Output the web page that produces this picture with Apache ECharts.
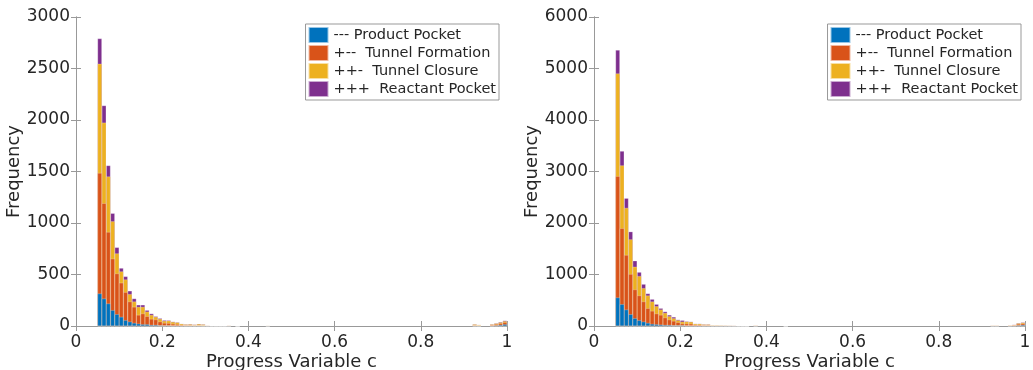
<!DOCTYPE html>
<html>
<head>
<meta charset="utf-8">
<script src="https://cdn.jsdelivr.net/npm/echarts@6/dist/echarts.min.js"></script>
<style>
  html, body { margin: 0; padding: 0; background: #fff; }
  #chart { width: 1033px; height: 370px; }
</style>
</head>
<body>
<div id="chart"></div>
<script>
// histogram bin centres (bin width 0.01)
const bins = [
  0.055, 0.065, 0.075, 0.085, 0.095, 0.105, 0.115, 0.125, 0.135, 0.145,
  0.155, 0.165, 0.175, 0.185, 0.195, 0.205, 0.215, 0.225, 0.235, 0.245,
  0.255, 0.265, 0.275, 0.285, 0.295, 0.305, 0.315, 0.325, 0.335, 0.345,
  0.355, 0.375, 0.445, 0.925, 0.935, 0.965, 0.975, 0.985, 0.995
];
const names = ['--- Product Pocket', '+--  Tunnel Formation', '++-  Tunnel Closure', '+++  Reactant Pocket'];
const colors = ['#0072BD', '#D95319', '#EDB120', '#7E2F8E'];

// left panel
const leftProduct = [315, 266, 218, 153, 114, 88, 56, 42, 29, 22, 16, 16, 10, 10, 6, 5, 5, 4, 3, 2, 1, 1, 1, 1, 0, 0, 0, 0, 0, 0, 0, 0, 0, 0, 0, 2, 6, 10, 16];
const leftFormation = [1170, 925, 694, 500, 395, 331, 272, 195, 156, 85, 104, 78, 58, 52, 36, 24, 22, 16, 14, 8, 6, 6, 4, 5, 4, 2, 1, 1, 1, 0, 2, 0, 3, 6, 4, 8, 10, 14, 18];
const leftClosure = [1060, 783, 539, 363, 195, 110, 123, 72, 52, 78, 65, 45, 39, 26, 26, 20, 24, 19, 17, 11, 8, 10, 8, 13, 11, 4, 3, 2, 1, 2, 4, 0, 2, 10, 8, 6, 8, 10, 12];
const leftReactant = [245, 166, 107, 78, 59, 33, 30, 32, 29, 20, 20, 14, 13, 6, 7, 7, 4, 3, 2, 1, 1, 1, 1, 1, 1, 0, 0, 0, 0, 0, 0, 0, 0, 0, 0, 1, 2, 4, 6];

// right panel
const rightProduct = [552, 422, 318, 227, 149, 110, 84, 58, 39, 32, 26, 19, 19, 13, 13, 13, 8, 7, 4, 4, 3, 3, 1, 1, 1, 1, 0, 0, 0, 0, 0, 0, 0, 0, 0, 2, 6, 14, 20];
const rightFormation = [2357, 1474, 1059, 780, 559, 481, 390, 286, 253, 208, 188, 143, 104, 84, 58, 32, 36, 34, 18, 18, 12, 12, 7, 7, 6, 5, 4, 3, 2, 1, 0, 4, 0, 6, 6, 8, 10, 22, 26];
const rightClosure = [1994, 1221, 915, 674, 441, 377, 260, 247, 182, 143, 104, 91, 65, 52, 39, 39, 40, 38, 20, 20, 15, 15, 11, 11, 10, 9, 9, 8, 4, 3, 0, 10, 0, 8, 8, 6, 8, 16, 18];
const rightReactant = [454, 279, 188, 150, 117, 77, 78, 39, 46, 39, 26, 26, 26, 26, 13, 26, 6, 5, 3, 3, 2, 2, 1, 1, 1, 1, 1, 1, 0, 0, 0, 0, 0, 0, 0, 0, 2, 4, 6];

const leftSets = [leftProduct, leftFormation, leftClosure, leftReactant];
const rightSets = [rightProduct, rightFormation, rightClosure, rightReactant];

const axisGray = '#999';
const textDark = '#262626';
const font = 'DejaVu Sans';

function xAxes(gridIndex) {
  return [
    {
      type: 'value', gridIndex: gridIndex, min: 0, max: 1, interval: 0.2,
      name: 'Progress Variable c', nameLocation: 'middle', nameGap: 27,
      nameMoveOverlap: false,
      nameTextStyle: { fontFamily: font, fontSize: 18, color: textDark },
      axisLine: { show: true, lineStyle: { color: axisGray } },
      axisTick: { show: true, inside: true, length: 5, lineStyle: { color: axisGray } },
      axisLabel: { fontFamily: font, fontSize: 17, color: textDark, margin: 8,
        formatter: v => String(+v.toFixed(1)) },
      splitLine: { show: false }
    },
    {
      type: 'value', gridIndex: gridIndex, position: 'top', min: 0, max: 1, interval: 0.2,
      axisLine: { show: true, lineStyle: { color: axisGray } },
      axisTick: { show: true, inside: true, length: 5, lineStyle: { color: axisGray } },
      axisLabel: { show: false },
      splitLine: { show: false }
    }
  ];
}

function yAxes(gridIndex, max, interval, gap) {
  return [
    {
      type: 'value', gridIndex: gridIndex, min: 0, max: max, interval: interval,
      name: 'Frequency', nameLocation: 'middle', nameGap: gap,
      nameTextStyle: { fontFamily: font, fontSize: 18, color: textDark },
      axisLine: { show: true, lineStyle: { color: axisGray } },
      axisTick: { show: true, inside: true, length: 5, lineStyle: { color: axisGray } },
      axisLabel: { fontFamily: font, fontSize: 17, color: textDark, margin: 6,
        formatter: v => String(v) },
      splitLine: { show: false }
    },
    {
      type: 'value', gridIndex: gridIndex, position: 'right', min: 0, max: max, interval: interval,
      axisLine: { show: true, lineStyle: { color: axisGray } },
      axisTick: { show: true, inside: true, length: 5, lineStyle: { color: axisGray } },
      axisLabel: { show: false },
      splitLine: { show: false }
    }
  ];
}

// stack by hand: each series is drawn up to its running total,
// topmost layer first so the lower layers paint over it
function makeSeries(sets, axisIndex) {
  const tops = [];
  let run = bins.map(() => 0);
  sets.forEach(vals => {
    run = run.map((r, k) => r + vals[k]);
    tops.push(run);
  });
  const out = [];
  for (let i = sets.length - 1; i >= 0; i--) {
    out.push({
      name: names[i],
      type: 'bar',
      xAxisIndex: axisIndex,
      yAxisIndex: axisIndex,
      barWidth: 4.3,
      barGap: '-100%',
      itemStyle: { color: colors[i], borderColor: 'rgba(255,255,255,0.6)', borderWidth: 0.4 },
      data: bins.map((b, k) => [b, tops[i][k]])
    });
  }
  return out;
}

function legend(right) {
  return {
    orient: 'vertical', top: 24, right: right,
    data: names,
    icon: 'rect', itemWidth: 20, itemHeight: 16, itemGap: 0,
    padding: [2, 3, 2, 2],
    borderColor: axisGray, borderWidth: 1, backgroundColor: '#fff',
    textStyle: { fontFamily: font, fontSize: 14.5, lineHeight: 16, color: textDark },
    selectedMode: false
  };
}

const chart = echarts.init(document.getElementById('chart'));
chart.setOption({
  animation: false,
  color: colors,
  grid: [
    { left: 76, right: 526, top: 17, bottom: 44, outerBoundsMode: 'none' },
    { left: 594, right: 8, top: 17, bottom: 44, outerBoundsMode: 'none' }
  ],
  legend: [legend(534), legend(12)],
  xAxis: xAxes(0).concat(xAxes(1)),
  yAxis: yAxes(0, 3000, 500, 40).concat(yAxes(1, 6000, 1000, 40)),
  series: makeSeries(leftSets, 0).concat(makeSeries(rightSets, 2))
});
</script>
</body>
</html>
